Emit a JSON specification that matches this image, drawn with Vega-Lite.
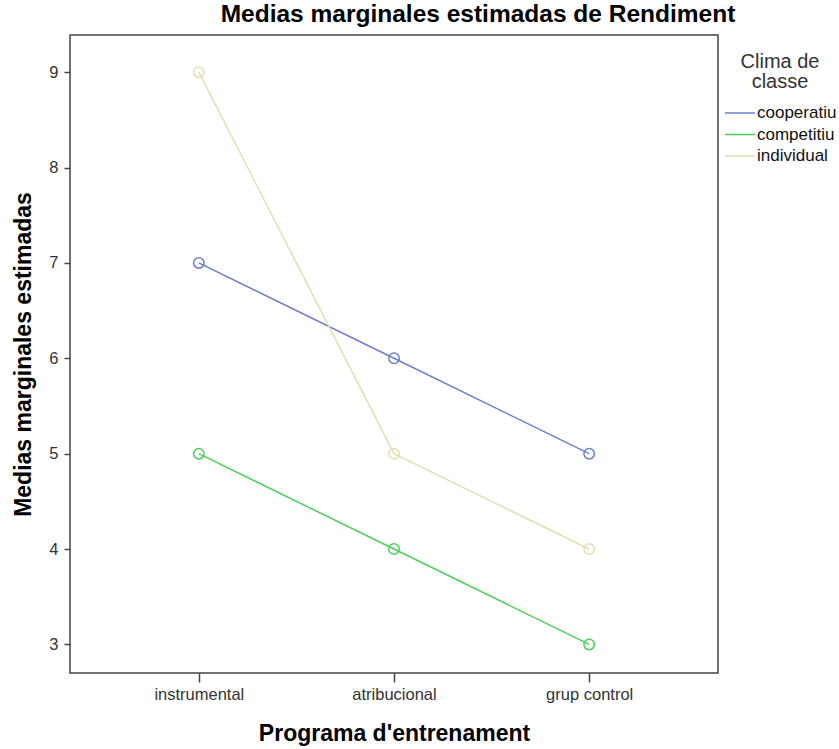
{
  "$schema": "https://vega.github.io/schema/vega-lite/v6.json",
  "autosize": "none",
  "width": 648,
  "height": 638,
  "padding": {"left": 70, "top": 35, "right": 121, "bottom": 76},
  "background": "white",
  "config": {
    "font": "Liberation Sans",
    "view": {"stroke": "#444444", "strokeWidth": 1.5},
    "axis": {"labelFont": "Liberation Sans", "titleFont": "Liberation Sans", "labelColor": "#333", "titleColor": "#000", "tickColor": "#444", "grid": false, "domain": false}
  },
  "title": {
    "text": "Medias marginales estimadas de Rendiment",
    "font": "Liberation Sans",
    "fontSize": 24.5,
    "fontWeight": "bold",
    "anchor": "middle",
    "dx": 84,
    "offset": 8,
    "color": "#000"
  },
  "data": {
    "values": [
      {"programa": "instrumental", "clima": "cooperatiu", "media": 7},
      {"programa": "atribucional", "clima": "cooperatiu", "media": 6},
      {"programa": "grup control", "clima": "cooperatiu", "media": 5},
      {"programa": "instrumental", "clima": "competitiu", "media": 5},
      {"programa": "atribucional", "clima": "competitiu", "media": 4},
      {"programa": "grup control", "clima": "competitiu", "media": 3},
      {"programa": "instrumental", "clima": "individual", "media": 9},
      {"programa": "atribucional", "clima": "individual", "media": 5},
      {"programa": "grup control", "clima": "individual", "media": 4}
    ]
  },
  "encoding": {
    "x": {
      "field": "programa",
      "type": "ordinal",
      "sort": ["instrumental", "atribucional", "grup control"],
      "scale": {"type": "point", "padding": 0.66},
      "axis": {"title": "Programa d'entrenament", "labelAngle": 0, "labelFontSize": 16.5, "tickSize": 9, "tickWidth": 1.5, "labelPadding": 4, "titleFontSize": 23, "titleFontWeight": "bold", "titlePadding": 20}
    },
    "y": {
      "field": "media",
      "type": "quantitative",
      "scale": {"domain": [2.7, 9.39], "nice": false, "zero": false},
      "axis": {"title": "Medias marginales estimadas", "values": [3, 4, 5, 6, 7, 8, 9], "labelFontSize": 16.5, "tickSize": 6, "tickWidth": 1.5, "labelPadding": 6, "titleFontSize": 23, "titleFontWeight": "bold", "titlePadding": 13}
    },
    "color": {
      "field": "clima",
      "type": "nominal",
      "scale": {"domain": ["cooperatiu", "competitiu", "individual"], "range": ["#6a7fd0", "#4ccf5a", "#e5dfb0"]},
      "legend": {
        "title": ["Clima de", "classe"],
        "orient": "none",
        "legendX": 654,
        "legendY": 17,
        "titleFontSize": 20,
        "titleFontWeight": "normal",
        "titleColor": "#333",
        "titleAnchor": "middle",
        "titleAlign": "center",
        "titleLineHeight": 20,
        "titlePadding": 10,
        "labelFontSize": 17,
        "labelColor": "#111",
        "symbolType": "M-1,0H2",
        "symbolSize": 400,
        "symbolStrokeWidth": 1.5,
        "labelOffset": 11,
        "rowPadding": 2.5
      }
    }
  },
  "layer": [
    {"mark": {"type": "line", "strokeWidth": 1.5}},
    {"mark": {"type": "point", "filled": false, "size": 110, "strokeWidth": 1.5, "opacity": 1}}
  ]
}
